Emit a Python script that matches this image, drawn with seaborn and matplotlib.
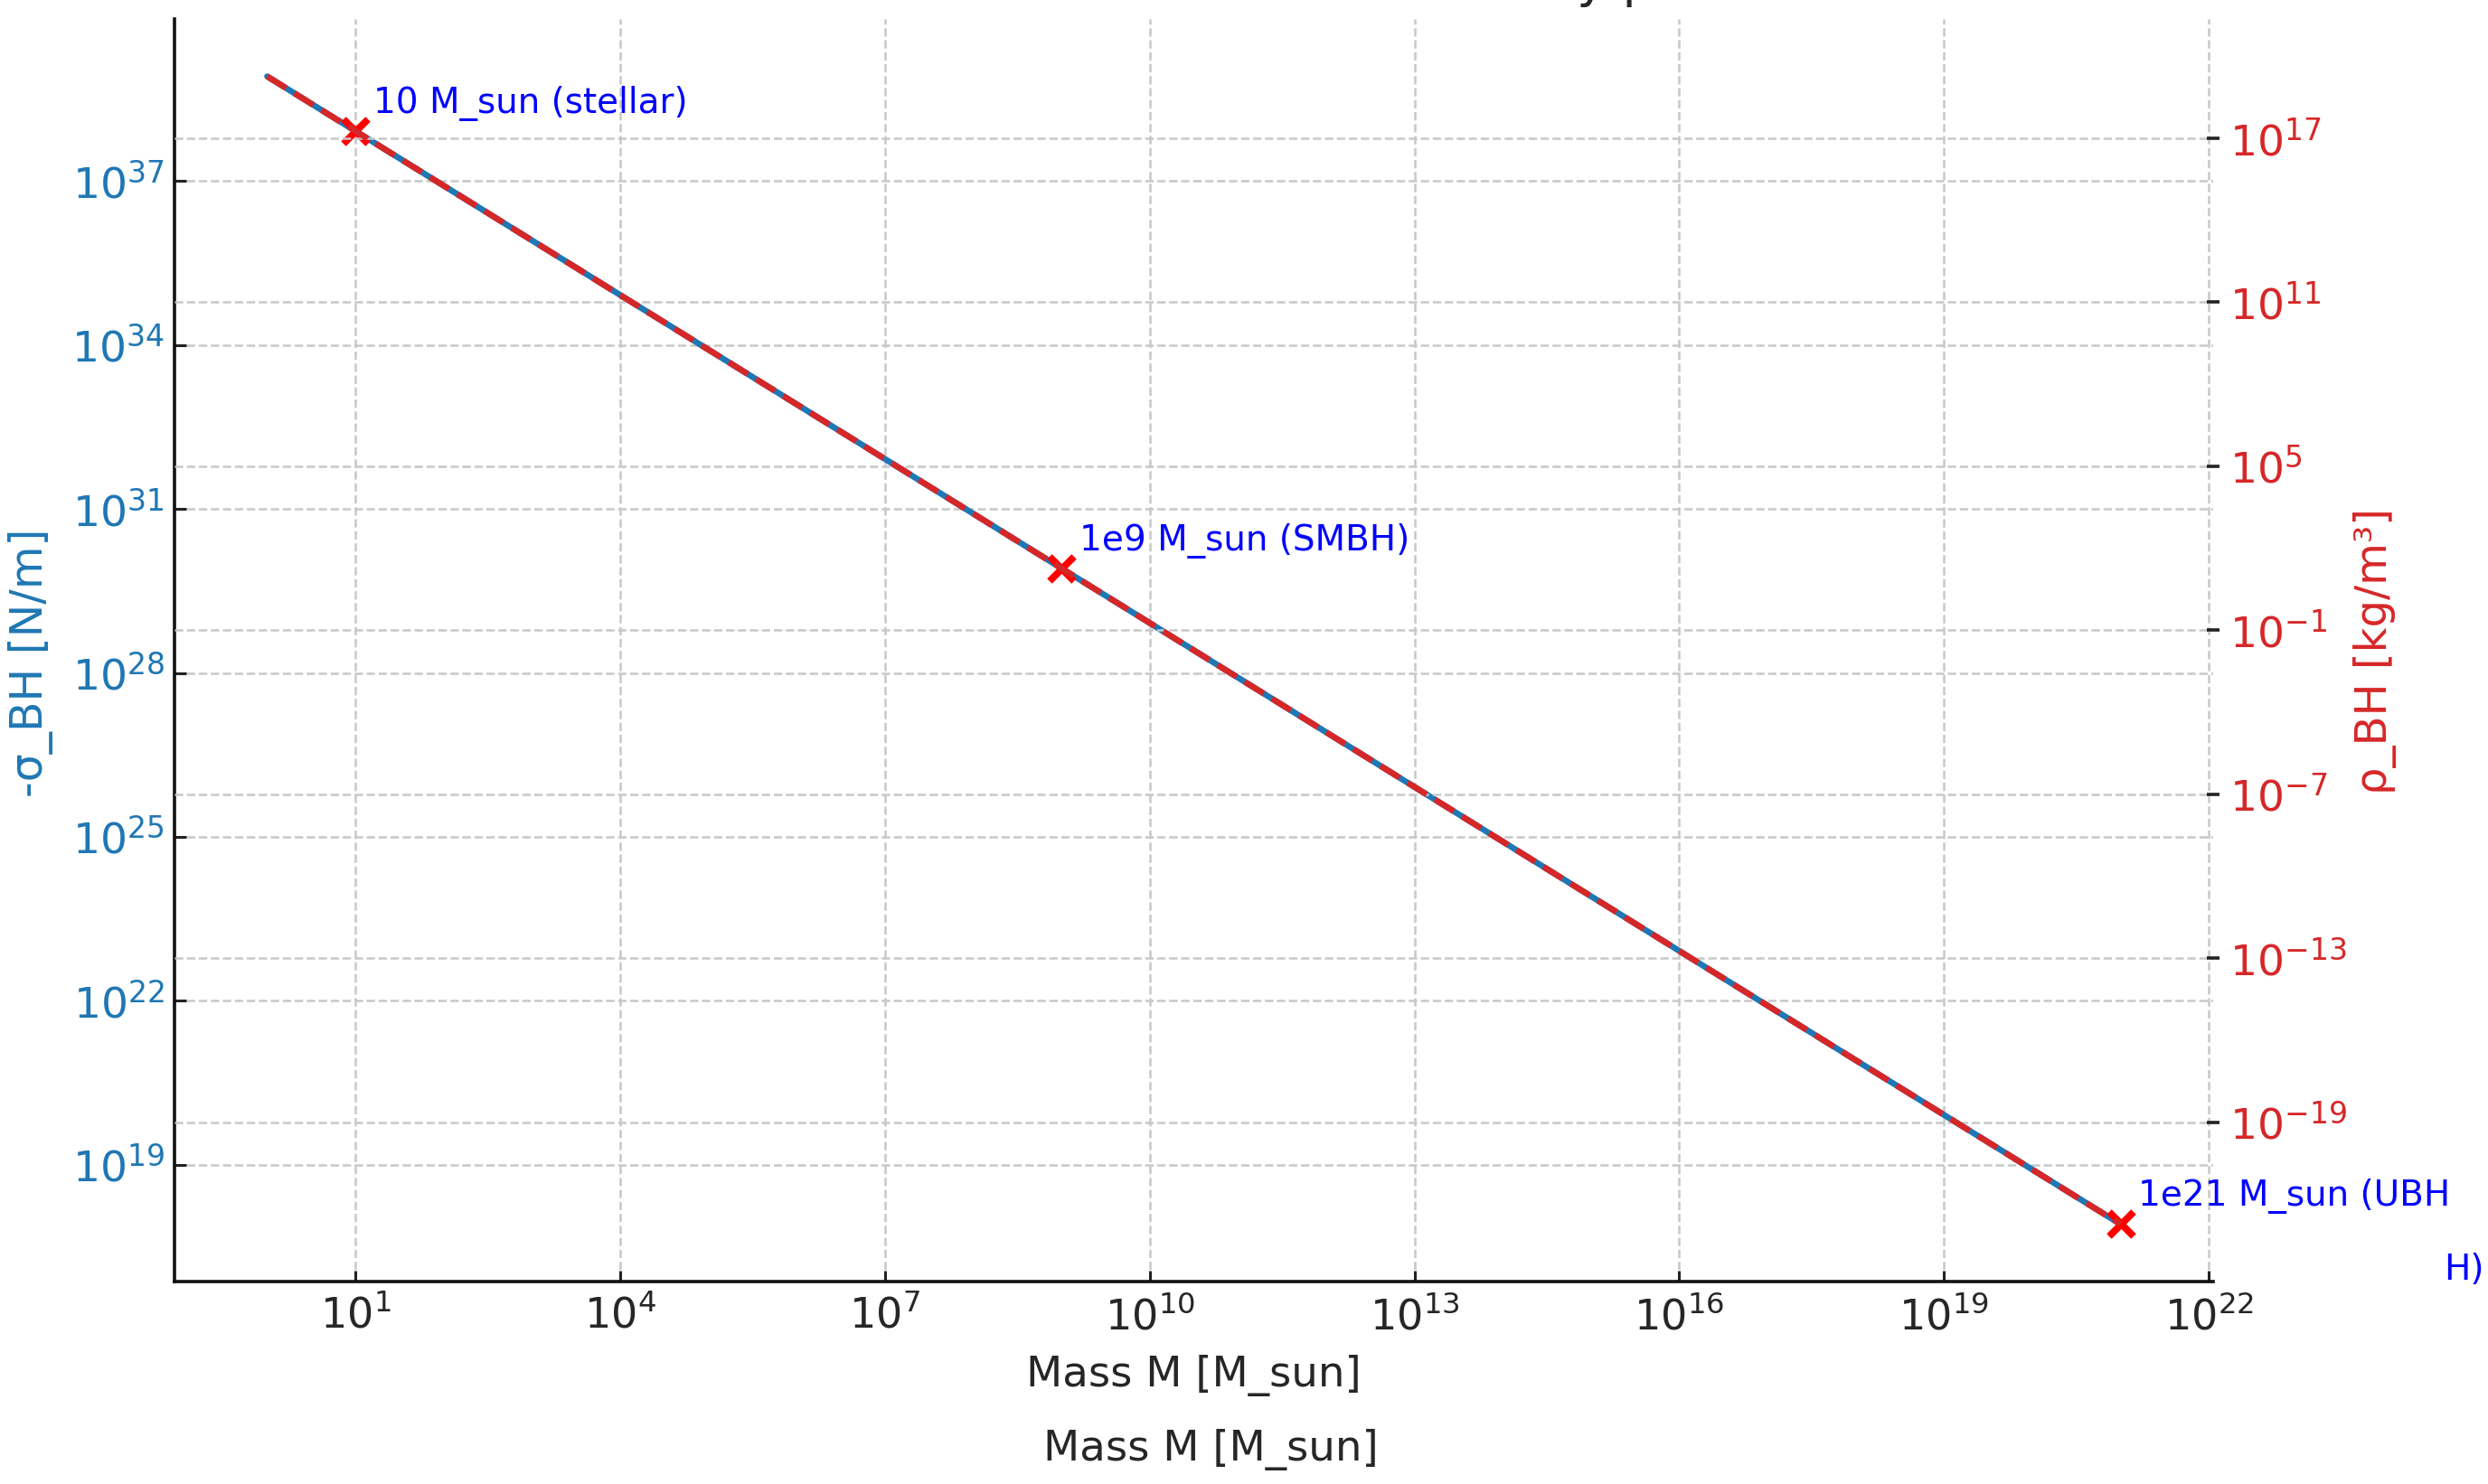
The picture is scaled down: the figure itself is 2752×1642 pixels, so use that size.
import matplotlib
matplotlib.use("Agg")
import matplotlib.pyplot as plt
import seaborn as sns
import pandas as pd

# ---- data ----
mass_msun = [1e0, 1e1, 1e9, 1e21]
neg_sigma_bh = [8.2e38, 8.2e37, 8.2e29, 8.2e17]      # N/m (left axis)
rho_bh = [1.84e19, 1.84e17, 1.84e1, 1.84e-23]         # kg/m^3 (right axis)

marker_mass = [1e1, 1e9, 1e21]
marker_sigma = [8.2e37, 8.2e29, 8.2e17]
marker_labels = ["10 M_sun (stellar)", "1e9 M_sun (SMBH)", "1e21 M_sun (UBH"]

x_tick_exps = [1, 4, 7, 10, 13, 16, 19, 22]
left_tick_exps = [19, 22, 25, 28, 31, 34, 37]
right_tick_exps = [-19, -13, -7, -1, 5, 11, 17]

title_text = "Black Hole Surface Tension and Density predictions"
x_label = "Mass M [M_sun]"
left_label = "-σ_BH [N/m]"
right_label = "ρ_BH [kg/m³]"

BLUE = "#1f77b4"
RED = "#d62728"
DARK = "#262626"

sns.set_theme(style="ticks")
plt.rcParams["font.family"] = ["DejaVu Sans"]

df = pd.DataFrame({"M": mass_msun, "sigma": neg_sigma_bh, "rho": rho_bh})
dm = pd.DataFrame({"M": marker_mass, "sigma": marker_sigma})

fig = plt.figure(figsize=(13.76, 8.21), dpi=200)
ax = fig.add_axes([193 / 2752, 1 - 1418 / 1642, (2448 - 193) / 2752, (1418 - 21) / 1642])
ax.set_xscale("log")
ax.set_yscale("log")

sns.lineplot(data=df, x="M", y="sigma", ax=ax, color=BLUE, linewidth=2.4)
sns.scatterplot(data=dm, x="M", y="sigma", ax=ax, marker="x", color="red",
                s=95, linewidth=2.8, zorder=6)

ax2 = ax.twinx()
ax2.set_yscale("log")
sns.lineplot(data=df, x="M", y="rho", ax=ax2, color=RED, linewidth=2.4, linestyle="--")

# ticks
ax.set_xticks([10.0 ** e for e in x_tick_exps])
ax.set_yticks([10.0 ** e for e in left_tick_exps])
ax2.set_yticks([10.0 ** e for e in right_tick_exps])
for a in (ax, ax2):
    a.tick_params(which="minor", length=0)

ax.tick_params(axis="x", direction="in", length=4.5, width=1.1, color="#222222",
               labelcolor=DARK, labelsize=16.6, pad=6)
ax.tick_params(axis="y", direction="in", length=4.5, width=1.1, color="#222222",
               labelcolor=BLUE, labelsize=17, pad=4)
ax2.tick_params(axis="y", direction="inout", length=4.7, width=1.3, color="#222222",
                labelcolor=RED, labelsize=17, pad=4)

# grid
grid_kw = dict(linestyle="--", color="#c8c8c8", linewidth=0.9)
ax.grid(True, which="major", **grid_kw)
ax2.grid(True, which="major", axis="y", **grid_kw)

# spines
for s in ("top", "right"):
    ax.spines[s].set_visible(False)
for s in ("left", "bottom"):
    ax.spines[s].set_color("#111111")
    ax.spines[s].set_linewidth(1.3)
for s in ax2.spines.values():
    s.set_visible(False)

# labels
ax.set_xlabel(x_label, fontsize=16.8, color=DARK, labelpad=6.5)
ax.set_ylabel(left_label, fontsize=17.6, color=BLUE)
ax.yaxis.set_label_coords((34 - 193) / 2255, (1418 - 733) / 1397)
ax.yaxis.label.set_verticalalignment("center")
ax2.set_ylabel(right_label, fontsize=17.3, color=RED)
ax2.yaxis.set_label_coords((2627 - 193) / 2255, (1418 - 720) / 1397)
ax2.yaxis.label.set_verticalalignment("center")

ax.set_title(title_text, fontsize=20, pad=9, color=DARK, x=0.5 + 70 / 2255)

# annotations
for m, s, lab in zip(marker_mass, marker_sigma, marker_labels):
    ax.annotate(lab, xy=(m, s), xytext=(7, 4), textcoords="offset points",
                color="blue", fontsize=14, ha="left", va="bottom")

fig.text(2703 / 2752, 1 - 1405 / 1642, "H)", color="blue", fontsize=14,
         ha="left", va="center")
fig.text(1339 / 2752, 1 - 1604 / 1642, x_label, fontsize=16.8, color=DARK,
         ha="center", va="center")

fig.savefig("out.png", dpi=200)
